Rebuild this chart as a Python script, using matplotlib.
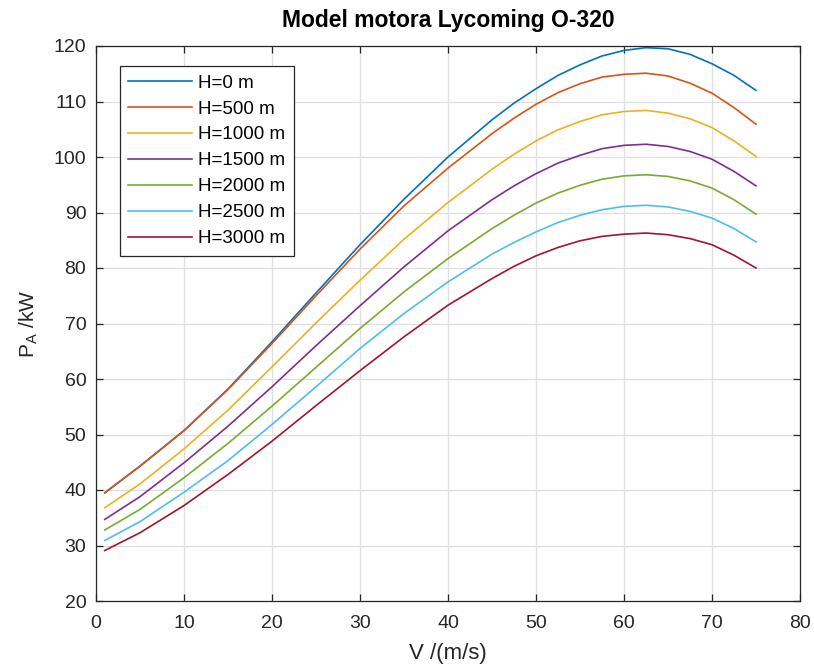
import matplotlib
matplotlib.use("Agg")
from matplotlib import pyplot as plt

plt.rcParams['font.family'] = ['Liberation Sans', 'DejaVu Sans']

# brzina leta
V = [1, 5, 10, 15, 20, 25, 30, 35, 40, 45, 47.5, 50, 52.5, 55, 57.5, 60, 62.5, 65, 67.5, 70, 72.5, 75]

# snaga po visinama (ocitano s grafa)
P_0 = [39.5, 44.3, 50.7, 58.2, 66.7, 75.5, 84.2, 92.4, 100.0, 106.7, 109.7, 112.3, 114.7, 116.6, 118.2, 119.2, 119.7, 119.5, 118.5, 116.8, 114.7, 112.0]
P_500 = [39.5, 44.3, 50.7, 58.1, 66.4, 75.0, 83.4, 91.2, 98.0, 104.2, 107.0, 109.5, 111.6, 113.2, 114.4, 114.9, 115.1, 114.6, 113.3, 111.5, 108.9, 105.9]
P_1000 = [36.8, 41.1, 47.4, 54.4, 62.2, 70.1, 77.8, 85.2, 91.8, 97.8, 100.5, 102.9, 104.9, 106.4, 107.6, 108.2, 108.4, 107.9, 106.9, 105.3, 102.9, 100.1]
P_1500 = [34.7, 38.8, 44.9, 51.5, 58.6, 66.0, 73.2, 80.2, 86.7, 92.3, 94.8, 97.0, 98.9, 100.3, 101.5, 102.1, 102.3, 101.9, 101.0, 99.6, 97.4, 94.8]
P_2000 = [32.8, 36.5, 42.2, 48.4, 55.1, 62.1, 69.1, 75.7, 81.7, 87.1, 89.5, 91.7, 93.5, 94.9, 96.0, 96.6, 96.8, 96.5, 95.7, 94.4, 92.3, 89.7]
P_2500 = [30.9, 34.3, 39.6, 45.3, 51.8, 58.6, 65.5, 71.8, 77.5, 82.5, 84.6, 86.5, 88.2, 89.5, 90.5, 91.1, 91.3, 91.0, 90.2, 89.0, 87.1, 84.7]
P_3000 = [29.1, 32.3, 37.2, 42.8, 48.8, 55.2, 61.5, 67.6, 73.3, 78.1, 80.3, 82.2, 83.7, 84.9, 85.7, 86.1, 86.3, 86.0, 85.3, 84.2, 82.3, 80.0]

visine = [0, 500, 1000, 1500, 2000, 2500, 3000]
snage = [P_0, P_500, P_1000, P_1500, P_2000, P_2500, P_3000]
boje = ['#0072BD', '#D95319', '#EDB120', '#7E2F8E', '#77AC30', '#4DBEEE', '#A2142F']

fig = plt.figure(figsize=(8.14, 6.66), dpi=100)
ax = fig.add_axes([96/814, 1-601/666, 704/814, 555/666])

for H, P, c in zip(visine, snage, boje):
    ax.plot(V, P, color=c, lw=1.2, label='H=%d m' % H)

ax.set_xlim(0, 80)
ax.set_ylim(20, 120)
ax.set_xticks(range(0, 81, 10))
ax.set_yticks(range(20, 121, 10))
ax.grid(True, color='#dfdfdf', lw=0.9)
ax.set_axisbelow(True)
for s in ax.spines.values():
    s.set_color('#262626')
    s.set_linewidth(0.9)
ax.tick_params(direction='in', length=5, width=0.9, colors='#262626',
               labelsize=14, top=True, right=True)
ax.tick_params(axis='x', pad=10)
ax.tick_params(axis='y', pad=7)

ax.set_xlabel('V /(m/s)', fontsize=16, color='#262626', labelpad=8)
ax.set_ylabel(r'$\mathregular{P_A}$ /kW', fontsize=15, color='#262626', labelpad=10)
ax.set_title('Model motora Lycoming O-320', fontsize=16.5, fontweight='bold', pad=14)

leg = ax.legend(loc='upper left', bbox_to_anchor=(24/704, 1-20/555), borderaxespad=0,
                fontsize=13.5, handlelength=3.4, handletextpad=0.3, labelspacing=0.47,
                fancybox=False, framealpha=1, edgecolor='#262626', borderpad=0.45)
leg.get_frame().set_linewidth(0.9)

plt.savefig('out.png', dpi=100)
